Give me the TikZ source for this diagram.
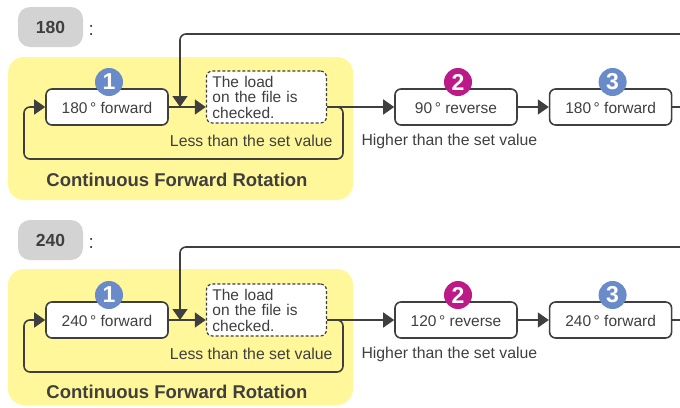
\documentclass[tikz,border=0pt]{standalone}
\usepackage{fontspec}
\setmainfont{Liberation Sans}
\usetikzlibrary{positioning, arrows.meta}

\definecolor{ink}{HTML}{3F3F3F}
\definecolor{zonefill}{HTML}{FFF79A}
\definecolor{tagfill}{HTML}{D3D3D3}
\definecolor{numblue}{HTML}{6A8BC9}
\definecolor{nummag}{HTML}{BC1A87}

\begin{document}
\begin{tikzpicture}[
    x=1pt, y=-1pt,
    every node/.style={text=ink},
    zone/.style={
      rectangle, fill=zonefill, rounded corners=16pt,
      minimum width=345pt, inner sep=0pt
    },
    tag/.style={
      rectangle, fill=tagfill, rounded corners=12pt,
      minimum width=65pt, minimum height=40pt,
      font=\fontsize{17.5}{20}\selectfont\bfseries
    },
    colon/.style={font=\fontsize{19}{20}\selectfont, yshift=-3pt},
    stepbox/.style={
      rectangle, draw=ink, line width=1.6pt, rounded corners=6pt,
      minimum width=122pt, minimum height=36pt, fill=white,
      text height=13pt, text depth=1pt,
      font=\fontsize{15.5}{18}\selectfont
    },
    checkbox/.style={
      rectangle, draw=ink, line width=1.2pt, dash pattern=on 3pt off 2pt,
      rounded corners=6pt, fill=white, text width=108pt, inner xsep=6pt,
      minimum height=52pt, align=left,
      font=\fontsize{15.5}{15.5}\selectfont
    },
    num/.style={
      circle, inner sep=0pt, minimum size=28pt, text=white,
      font=\fontsize{23}{23}\selectfont\bfseries
    },
    note/.style={font=\fontsize{15.8}{18}\selectfont},
    title/.style={font=\fontsize{18.5}{20}\selectfont\bfseries},
    wire/.style={line width=1.6pt, draw=ink, rounded corners=6pt},
    arr/.style={wire, -{Triangle[length=11pt, width=15pt]}}
  ]
    \useasboundingbox (0,0) rectangle (680,407);

    % 180 setting
    \node[zone, minimum height=143pt] (zoneA) at (180.5,128.5) {};
    \node[tag] (tagA) at (50.5,27) {180};
    \node[colon, right=2pt of tagA] (colonA) {:};
    \node[stepbox] (stepA1) at (107,107) {180\,° forward};
    \node[checkbox, right=37pt of stepA1, yshift=10pt] (checkA) {The load\\on the file is\\checked.};
    \node[stepbox] (stepA2) at (456,107) {90\,° reverse};
    \node[stepbox, right=31pt of stepA2] (stepA3) {180\,° forward};
    \node[num, fill=numblue, above=-8pt of stepA1, xshift=2pt] (numA1) {1};
    \node[num, fill=nummag, above=-8pt of stepA2, xshift=2pt] (numA2) {2};
    \node[num, fill=numblue, above=-8pt of stepA3, xshift=2pt] (numA3) {3};
    \node[note, anchor=east] (lessA) at (336,141) {Less than the set value};
    \node[note, anchor=west] (highA) at (358,141) {Higher than the set value};
    \node[title] (titleA) at (177,180) {Continuous Forward Rotation};
    \coordinate (joinA) at (180,107);
    \coordinate (backA) at (680,34);
    \coordinate (exitA) at (680,107);
    \coordinate (loopRA) at (343,159);
    \coordinate (loopLA) at (24,159);
    \draw[arr] (stepA1) -- (checkA.west |- stepA1);
    \draw[arr] (backA) -| (joinA);
    \draw[arr] (checkA.east |- stepA1) -- (stepA2);
    \draw[arr] (checkA.east |- stepA1) -| (loopRA) -- (loopLA) |- (stepA1);
    \draw[arr] (stepA2) -- (stepA3);
    \draw[wire] (stepA3) -- (exitA);

    % 240 setting
    \node[zone, minimum height=136pt] (zoneB) at (180.5,337) {};
    \node[tag] (tagB) at (50.5,240) {240};
    \node[colon, right=2pt of tagB] (colonB) {:};
    \node[stepbox] (stepB1) at (107,320) {240\,° forward};
    \node[checkbox, right=37pt of stepB1, yshift=10pt] (checkB) {The load\\on the file is\\checked.};
    \node[stepbox] (stepB2) at (456,320) {120\,° reverse};
    \node[stepbox, right=31pt of stepB2] (stepB3) {240\,° forward};
    \node[num, fill=numblue, above=-8pt of stepB1, xshift=2pt] (numB1) {1};
    \node[num, fill=nummag, above=-8pt of stepB2, xshift=2pt] (numB2) {2};
    \node[num, fill=numblue, above=-8pt of stepB3, xshift=2pt] (numB3) {3};
    \node[note, anchor=east] (lessB) at (336,354) {Less than the set value};
    \node[note, anchor=west] (highB) at (358,354) {Higher than the set value};
    \node[title] (titleB) at (177,392) {Continuous Forward Rotation};
    \coordinate (joinB) at (180,320);
    \coordinate (backB) at (680,247);
    \coordinate (exitB) at (680,320);
    \coordinate (loopRB) at (343,372);
    \coordinate (loopLB) at (24,372);
    \draw[arr] (stepB1) -- (checkB.west |- stepB1);
    \draw[arr] (backB) -| (joinB);
    \draw[arr] (checkB.east |- stepB1) -- (stepB2);
    \draw[arr] (checkB.east |- stepB1) -| (loopRB) -- (loopLB) |- (stepB1);
    \draw[arr] (stepB2) -- (stepB3);
    \draw[wire] (stepB3) -- (exitB);
  \end{tikzpicture}
\end{document}
